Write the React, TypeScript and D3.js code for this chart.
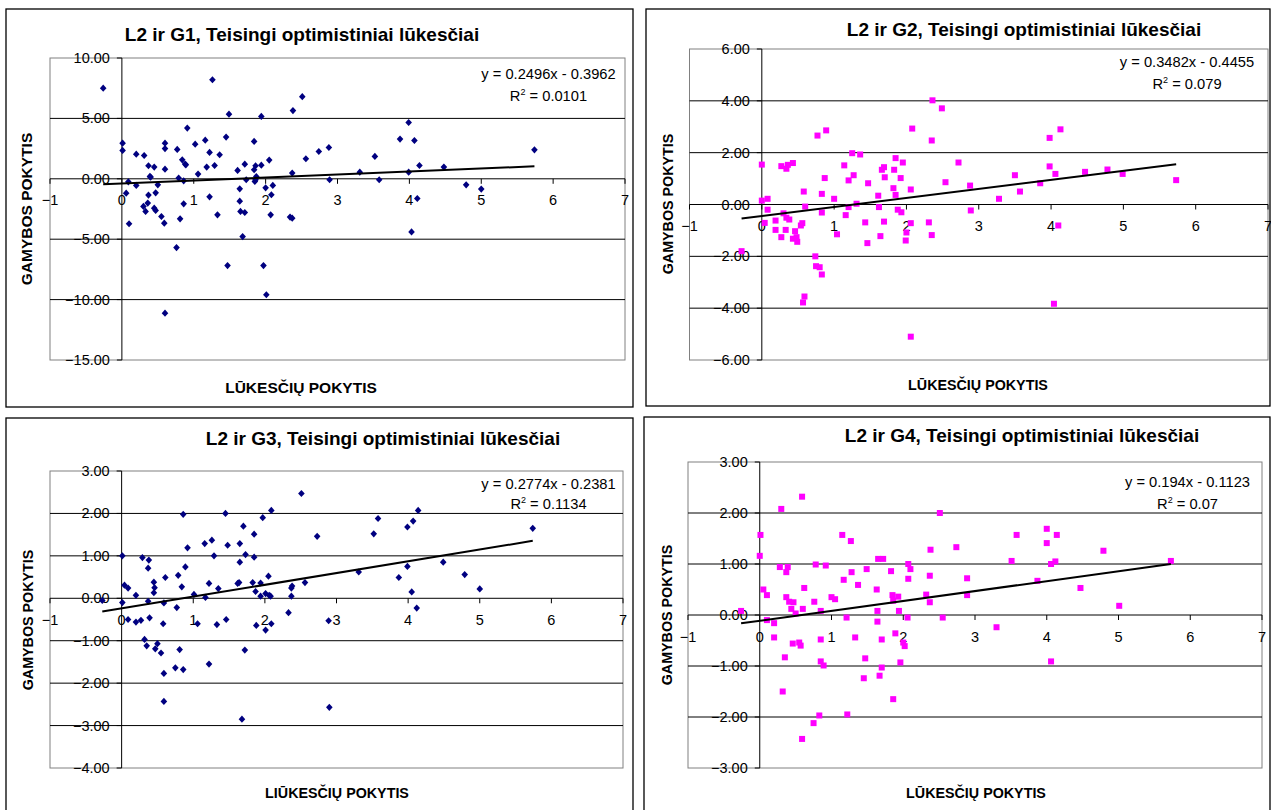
import React from "react";
import * as d3 from "d3";

// ---------- DATA ----------
const X_TICKS = [-1, 0, 1, 2, 3, 4, 5, 6, 7];
const G1_Y_TICKS = [10, 5, 0, -5, -10, -15];
const G2_Y_TICKS = [6, 4, 2, 0, -2, -4, -6];
const G3_Y_TICKS = [3, 2, 1, 0, -1, -2, -3, -4];
const G4_Y_TICKS = [3, 2, 1, 0, -1, -2, -3];

const TITLES = [
  "L2 ir G1, Teisingi optimistiniai lūkesčiai",
  "L2 ir G2, Teisingi optimistiniai lūkesčiai",
  "L2 ir G3, Teisingi optimistiniai lūkesčiai",
  "L2 ir G4, Teisingi optimistiniai lūkesčiai",
];
const X_TITLES = ["LŪKESČIŲ POKYTIS", "LŪKESČIŲ POKYTIS", "LIŪKESČIŲ POKYTIS", "LŪKESČIŲ POKYTIS"];
const Y_TITLE = "GAMYBOS POKYTIS";
const SLOPES = [0.2496, 0.3482, 0.2774, 0.194];
const INTERCEPTS = [-0.3962, -0.4455, -0.2381, -0.1123];
const EQUATIONS = ["y = 0.2496x - 0.3962", "y = 0.3482x - 0.4455", "y = 0.2774x - 0.2381", "y = 0.194x - 0.1123"];
const R2_VALUES = ["0.0101", "0.079", "0.1134", "0.07"];

const G1_POINTS: [number, number][] = [
  [-0.26, 7.5], [0.01, 2.95], [0.01, 2.35], [0.2, 2.04], [0.31, 1.93], [0.37, 1.08], [0.45, 0.97], [0.6, 2.95], [0.6, 2.5], [0.6, 0.8],
  [0.77, 2.43], [0.84, 1.57], [0.88, 1.22], [0.91, 4.2], [1.02, 2.87], [1.16, 3.2], [1.22, 2.18], [1.18, 0.97], [1.29, 1.1], [1.26, 8.2],
  [1.36, 1.99], [1.45, 3.45], [1.49, 5.35], [1.06, 0.39], [0.79, 0.06], [0.86, -0.17], [1.61, 0.69], [1.71, 1.21], [1.73, -0.08], [1.84, 3.09],
  [1.84, 0.75], [1.86, 1.08], [1.87, 0.19], [1.85, -0.22], [1.94, 5.16], [1.94, 1.13], [2.05, 1.55], [2.37, 0.47], [2.38, 5.65], [2.51, 6.8],
  [2.56, 1.66], [2.74, 2.26], [2.88, 2.59], [2.89, -0.08], [0.39, 0.2], [0.09, -0.25], [0.06, -1.19], [0.2, -0.55], [0.37, -1.35], [0.47, -1.16],
  [0.5, -0.5], [0.3, -2.29], [0.36, -2.01], [0.45, -2.43], [0.86, -2.07], [1.22, -1.49], [1.64, -0.83], [1.64, -1.85], [2.0, -0.75], [2.1, -0.55],
  [2.08, -1.32], [0.1, -3.72], [0.33, -2.7], [0.47, -2.62], [0.55, -3.12], [0.59, -3.67], [0.76, -5.69], [0.81, -3.31], [0.89, 1.16], [1.33, -2.98],
  [1.65, -2.7], [1.71, -2.79], [1.68, -4.78], [1.86, -0.08], [2.07, -2.98], [2.34, -3.17], [2.37, -3.26], [0.6, -11.12], [1.47, -7.18], [1.97, -7.18],
  [2.01, -9.6], [3.31, 0.55], [3.52, 1.85], [3.58, -0.08], [3.87, 3.29], [3.99, 4.66], [4.07, 3.17], [3.99, 0.55], [4.14, 1.1], [4.11, -1.63],
  [4.48, 0.97], [4.79, -0.5], [5.0, -0.85], [5.74, 2.4], [4.03, -4.4], [0.4, 0.14],
];

const G2_POINTS: [number, number][] = [
  [-0.28, -1.8], [0, 1.54], [0, 0.15], [0.04, -0.71], [0.08, 0.22], [0.08, -0.2], [0.19, -0.62], [0.19, -0.98], [0.27, -1.26], [0.27, 1.48],
  [0.34, 1.38], [0.36, 1.53], [0.43, 1.6], [0.3, -0.34], [0.34, -0.51], [0.38, -0.58], [0.33, -0.98], [0.43, -1.32], [0.46, -1.03], [0.48, -1.26],
  [0.49, -1.44], [0.54, -0.81], [0.56, -0.72], [0.58, 0.5], [0.6, -0.08], [0.59, -3.55], [0.57, -3.78], [0.74, -2.0], [0.75, -2.38], [0.8, -2.42],
  [0.83, -2.7], [0.77, 2.66], [0.89, 2.86], [0.83, 0.41], [0.83, -0.31], [0.87, 1.02], [1.0, 0.22], [1.04, -1.15], [1.14, 1.51], [1.16, -0.41],
  [1.2, -0.1], [1.2, 0.93], [1.25, 1.98], [1.27, 1.13], [1.31, 0.03], [1.36, 1.93], [1.43, -0.69], [1.46, -1.49], [1.47, 0.82], [1.61, 0.34],
  [1.62, -0.1], [1.64, -1.22], [1.66, 1.34], [1.69, 1.44], [1.7, 1.05], [1.69, -0.66], [1.82, 0.63], [1.83, 1.34], [1.85, 1.79], [1.85, 0.37],
  [1.88, -0.2], [1.93, -0.3], [1.92, 1.02], [1.95, 1.62], [2.0, -1.08], [2.06, -0.72], [1.99, -1.39], [2.06, 0.58], [2.08, 2.93], [2.06, -5.1],
  [2.31, -0.69], [2.35, -1.18], [2.36, 4.02], [2.35, 2.47], [2.49, 3.71], [2.54, 0.86], [2.72, 1.62], [2.88, 0.73], [2.89, -0.23], [3.28, 0.22],
  [3.5, 1.13], [3.57, 0.5], [3.85, 0.82], [3.98, 2.57], [4.13, 2.9], [3.98, 1.47], [4.06, 1.18], [4.1, -0.81], [4.04, -3.83], [4.47, 1.26],
  [4.78, 1.35], [4.99, 1.18], [5.73, 0.94],
];

const G3_POINTS: [number, number][] = [
  [-0.27, -0.05], [0.01, 1.0], [0.01, -0.1], [0.04, 0.31], [0.09, 0.24], [0.09, -0.5], [0.2, 0.07], [0.2, -0.56], [0.27, -0.52], [0.29, 0.96],
  [0.38, 0.9], [0.37, 0.71], [0.37, -0.07], [0.39, -0.46], [0.32, -0.97], [0.35, -1.12], [0.45, 0.38], [0.46, 0.25], [0.45, 0.13], [0.47, -1.19],
  [0.5, -1.07], [0.55, -1.29], [0.58, -0.6], [0.59, -0.11], [0.61, 0.49], [0.59, -1.77], [0.59, -2.43], [0.77, -0.22], [0.79, 0.54], [0.75, -1.64],
  [0.81, -1.21], [0.86, -1.68], [0.84, 0.27], [0.86, 1.98], [0.89, 0.74], [0.92, 1.19], [1.01, 0.09], [1.06, -0.6], [1.16, 1.29], [1.17, 0.02],
  [1.22, 0.35], [1.22, -1.55], [1.26, 1.37], [1.29, 1.0], [1.33, -0.62], [1.35, 0.23], [1.45, 2.0], [1.46, -0.5], [1.48, 1.25], [1.62, 0.35],
  [1.64, 0.37], [1.65, 1.29], [1.65, 0.85], [1.68, -2.85], [1.7, 1.7], [1.72, -1.22], [1.73, 1.03], [1.85, 1.51], [1.85, 0.97], [1.83, 0.37],
  [1.87, 0.16], [1.88, -0.64], [1.94, 0.36], [1.94, 0.05], [1.97, 1.9], [2.01, 0.11], [2.01, -0.75], [2.05, 0.52], [2.06, 0.07], [2.08, 0.05],
  [2.09, -0.6], [2.09, 2.07], [2.33, -0.34], [2.37, 0.24], [2.37, 0.05], [2.38, 0.29], [2.51, 2.47], [2.56, 0.37], [2.73, 1.46], [2.89, -0.53],
  [2.9, -2.57], [3.31, 0.62], [3.52, 1.52], [3.58, 1.88], [3.87, 0.49], [3.99, 1.68], [4.07, 1.82], [4.14, 2.07], [3.99, 0.75], [4.05, 0.15],
  [4.12, -0.23], [4.49, 0.85], [4.79, 0.56], [5.0, 0.22], [5.74, 1.65],
];

const G4_POINTS: [number, number][] = [
  [-0.26, 0.08], [0, 1.16], [0.01, 1.57], [0.05, 0.5], [0.1, 0.39], [0.1, -0.1], [0.2, -0.16], [0.2, -0.44], [0.28, 0.94], [0.3, 2.08],
  [0.32, -1.5], [0.35, -0.83], [0.37, 0.84], [0.39, 0.94], [0.37, 0.35], [0.41, 0.26], [0.44, 0.12], [0.47, 0.25], [0.46, -0.56], [0.5, 0.03],
  [0.55, -0.54], [0.57, -0.6], [0.59, 2.32], [0.59, -2.43], [0.6, 0.12], [0.62, 0.53], [0.75, -2.12], [0.76, 0.26], [0.78, 0.99], [0.83, -1.97],
  [0.85, 0.08], [0.85, -0.48], [0.85, -0.91], [0.89, -0.99], [0.92, 0.97], [1.0, 0.35], [1.05, 0.31], [1.15, 1.57], [1.17, 0.69], [1.21, -0.05],
  [1.22, -1.95], [1.27, 1.45], [1.28, 0.84], [1.33, -0.44], [1.37, 0.59], [1.45, -1.24], [1.47, -0.85], [1.49, 0.9], [1.63, 0.5], [1.64, 0.08],
  [1.64, -0.13], [1.65, 1.1], [1.67, -1.19], [1.7, -0.48], [1.7, -1.03], [1.72, 1.1], [1.83, 0.86], [1.85, 0.39], [1.86, 0.28], [1.86, -1.65],
  [1.89, -0.36], [1.93, 0.36], [1.94, 0.08], [1.96, -0.93], [2.0, -0.54], [2.02, -0.61], [2.06, -0.05], [2.07, 1.0], [2.07, 0.71], [2.1, 0.9],
  [2.32, 0.4], [2.37, 0.25], [2.37, 0.77], [2.38, 1.28], [2.51, 2.0], [2.55, -0.05], [2.74, 1.33], [2.89, 0.72], [2.89, 0.39], [3.3, -0.24],
  [3.51, 1.06], [3.58, 1.57], [3.87, 0.67], [4.0, 1.69], [4.0, 1.41], [4.14, 1.57], [4.06, 1.0], [4.12, 1.05], [4.06, -0.91], [4.47, 0.53],
  [4.79, 1.26], [5.01, 0.18], [5.73, 1.06],
];

// ---------- LAYOUT ----------
type Layout = {
  frame: [number, number, number, number];
  plot: { left: number; right: number; top: number; bottom: number };
  title: [number, number];
  yLab: [number, number];
  xLab: [number, number];
  eq: [number, number, number];
  axisFont: number;
};

const LAYOUTS: Layout[] = [
  { frame: [6, 9, 627, 398], plot: { left: 50, right: 625, top: 58, bottom: 360 }, title: [302, 41], yLab: [26, 209], xLab: [301, 393], eq: [548.5, 79, 101], axisFont: 15.5 },
  { frame: [646, 9, 624, 397], plot: { left: 689.5, right: 1268, top: 49, bottom: 360 }, title: [1024, 36], yLab: [668, 204], xLab: [978, 390], eq: [1187, 67, 89], axisFont: 14.3 },
  { frame: [6, 418, 627, 400], plot: { left: 50, right: 623, top: 471, bottom: 768 }, title: [383, 445], yLab: [28, 620], xLab: [337, 798], eq: [548.5, 489, 509], axisFont: 14.3 },
  { frame: [644, 417, 626, 400], plot: { left: 688, right: 1262, top: 462, bottom: 768 }, title: [1022, 442], yLab: [667, 615], xLab: [976, 798], eq: [1187.5, 487, 509], axisFont: 14.3 },
];

const PANELS = [
  { points: G1_POINTS, yTicks: G1_Y_TICKS, color: "#000080", marker: "diamond" },
  { points: G2_POINTS, yTicks: G2_Y_TICKS, color: "#FF00FF", marker: "square" },
  { points: G3_POINTS, yTicks: G3_Y_TICKS, color: "#000080", marker: "diamond" },
  { points: G4_POINTS, yTicks: G4_Y_TICKS, color: "#FF00FF", marker: "square" },
];

const FONT = "'Liberation Sans', Arial, Helvetica, sans-serif";
const fmtY = d3.format(".2f");
const fmtX = d3.format("d");

function Panel({ i }: { i: number }) {
  const L = LAYOUTS[i];
  const P = PANELS[i];
  const { left, right, top, bottom } = L.plot;
  const yExt = d3.extent(P.yTicks) as [number, number];
  const xs = d3.scaleLinear().domain([X_TICKS[0], X_TICKS[X_TICKS.length - 1]]).range([left, right]);
  const ys = d3.scaleLinear().domain(yExt).range([bottom, top]);
  const x0 = xs(0);
  const y0 = ys(0);
  const xExt = d3.extent(P.points, (d) => d[0]) as [number, number];
  const line = d3.line<number>().x((x) => xs(x)).y((x) => ys(SLOPES[i] * x + INTERCEPTS[i]));
  const diamond = "M0,-3.6L3.3,0L0,3.6L-3.3,0Z";
  const [fx, fy, fw, fh] = L.frame;

  return (
    <g>
      <rect x={fx} y={fy} width={fw} height={fh} fill="#fff" stroke="#000" strokeWidth={1.3} />
      <text x={L.title[0]} y={L.title[1]} textAnchor="middle" fontFamily={FONT} fontWeight="bold" fontSize={19} fill="#000">
        {TITLES[i]}
      </text>
      <rect x={left} y={top} width={right - left} height={bottom - top} fill="#fff" stroke="#808080" strokeWidth={1} />
      {P.yTicks
        .filter((t) => t !== yExt[0] && t !== yExt[1] && t !== 0)
        .map((t) => (
          <line key={"g" + t} x1={left} x2={right} y1={ys(t)} y2={ys(t)} stroke="#000" strokeWidth={1} />
        ))}
      {/* y axis */}
      <line x1={x0} x2={x0} y1={top} y2={bottom} stroke="#000" strokeWidth={1} />
      {P.yTicks.map((t) => (
        <g key={"yt" + t}>
          <line x1={x0 - 5} x2={x0} y1={ys(t)} y2={ys(t)} stroke="#000" />
          <text x={x0 - 12} y={ys(t) + 5} textAnchor="end" fontFamily={FONT} fontSize={14.5} fill="#000">
            {fmtY(t)}
          </text>
        </g>
      ))}
      {/* x axis */}
      <line x1={left} x2={right} y1={y0} y2={y0} stroke="#000" strokeWidth={1} />
      {X_TICKS.map((t) => (
        <g key={"xt" + t}>
          <line x1={xs(t)} x2={xs(t)} y1={y0} y2={y0 + 5} stroke="#000" />
          <text x={xs(t)} y={y0 + 26.5} textAnchor="middle" fontFamily={FONT} fontSize={14.5} fill="#000">
            {fmtX(t)}
          </text>
        </g>
      ))}
      {/* points */}
      {P.points.map((d, k) =>
        P.marker === "diamond" ? (
          <path key={k} d={diamond} transform={`translate(${xs(d[0])},${ys(d[1])})`} fill={P.color} />
        ) : (
          <rect key={k} x={xs(d[0]) - 3} y={ys(d[1]) - 3} width={6} height={6} fill={P.color} />
        )
      )}
      {/* trendline */}
      <path d={line(xExt) || ""} stroke="#000" strokeWidth={2} fill="none" />
      {/* equation */}
      <text x={L.eq[0]} y={L.eq[1]} textAnchor="middle" fontFamily={FONT} fontSize={14.7} fill="#000">
        {EQUATIONS[i]}
      </text>
      <text x={L.eq[0]} y={L.eq[2]} textAnchor="middle" fontFamily={FONT} fontSize={14.7} fill="#000">
        <tspan>R</tspan>
        <tspan dy={-6} fontSize={9}>2</tspan>
        <tspan dy={6}>{" = " + R2_VALUES[i]}</tspan>
      </text>
      {/* axis titles */}
      <text
        transform={`translate(${L.yLab[0] + L.axisFont * 0.36},${L.yLab[1]}) rotate(-90)`}
        textAnchor="middle"
        fontFamily={FONT}
        fontWeight="bold"
        fontSize={L.axisFont}
        fill="#000"
      >
        {Y_TITLE}
      </text>
      <text x={L.xLab[0]} y={L.xLab[1]} textAnchor="middle" fontFamily={FONT} fontWeight="bold" fontSize={L.axisFont} fill="#000">
        {X_TITLES[i]}
      </text>
    </g>
  );
}

export default function App() {
  return (
    <svg
      width={1271}
      height={810}
      viewBox="0 0 1271 810"
      style={{ position: "absolute", left: 0, top: 0, background: "#fff" }}
    >
      <rect x={0} y={0} width={1271} height={810} fill="#fff" />
      {[0, 1, 2, 3].map((i) => (
        <Panel key={i} i={i} />
      ))}
    </svg>
  );
}
